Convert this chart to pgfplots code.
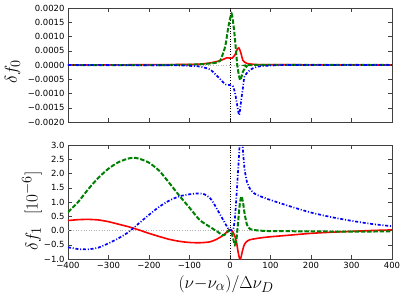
\documentclass[border=0pt]{standalone}
\usepackage{fontspec}
\setmainfont{DejaVu Sans}
\usepackage{pgfplots}
\pgfplotsset{compat=1.18}
\definecolor{mplgreen}{rgb}{0,0.5,0}
\begin{document}
\begin{tikzpicture}
\pgfplotsset{
  myax/.style={
    scale only axis, width=324bp, height=114bp,
    xmin=-400, xmax=400,
    tick align=inside, major tick length=4bp,
    xtick={-400,-300,...,400},
    axis line style={black!75}, tick style={black!75},
    ticklabel style={font=\fontsize{8.5}{10}\selectfont},
    label style={font=\fontsize{19}{21}\selectfont},
    clip=true,
  },
  red line/.style={red, line width=1.6pt},
  green line/.style={mplgreen, line width=2pt, dash pattern=on 4.5pt off 1.8pt},
  blue line/.style={blue, line width=1.7pt, dash pattern=on 3pt off 1.8pt on 1pt off 1.8pt},
}
% bottom
\begin{axis}[myax, at={(0,0)}, anchor=south west,
  ymin=-1, ymax=3, ytick={-1,-0.5,...,3},
  yticklabels={−1.0,−0.5,0.0,0.5,1.0,1.5,2.0,2.5,3.0},
  xticklabels={−400,−300,−200,−100,0,100,200,300,400},
  ylabel={$\delta f_1\ \ [10^{-6}]$},
  ylabel style={at={(axis description cs:-0.111,0.42)}, anchor=center},
  xlabel={$(\nu{-}\nu_\alpha)/\Delta\nu_D$},
  xlabel style={at={(axis description cs:0.488,-0.22)}, anchor=center},
]
\addplot[gray!60, dotted, line width=0.6pt] coordinates {(-400,0) (400,0)};
\addplot[black, dotted, line width=0.6pt] coordinates {(0,-1) (0,3)};
\addplot[red line, smooth, tension=0.4] coordinates {
(-400,0.35) (-375,0.38) (-350,0.39) (-325,0.37) (-300,0.31) (-275,0.22) (-250,0.13)
(-225,0.02) (-200,-0.1) (-175,-0.21) (-150,-0.31) (-125,-0.38) (-100,-0.42) (-75,-0.43)
(-50,-0.4) (-35,-0.32) (-20,-0.2) (-10,-0.08) (-3,0.02) (2,0.03) (7,-0.05) (12,-0.2)
(16,-0.4) (20,-0.75) (24,-1.0) (27,-0.95) (31,-0.7) (36,-0.48) (42,-0.38) (50,-0.32)
(75,-0.26) (100,-0.22) (150,-0.16) (200,-0.1) (250,-0.06) (300,-0.03) (350,0.0) (400,0.02)};
\addplot[green line, smooth, tension=0.4] coordinates {
(-400,0.64) (-375,1.0) (-350,1.45) (-325,1.85) (-300,2.17) (-275,2.4) (-250,2.53)
(-235,2.55) (-220,2.5) (-200,2.38) (-175,2.1) (-150,1.67) (-125,1.22) (-100,0.8)
(-75,0.37) (-50,0.13) (-30,-0.05) (-18,-0.17) (-10,-0.12) (-3,0.0) (3,-0.05) (8,-0.3)
(12,-0.5) (16,-0.3) (20,0.3) (24,0.9) (28,1.2) (32,1.0) (36,0.6) (42,0.2) (50,0.05)
(70,0.0) (100,-0.02) (200,-0.03) (300,-0.04) (400,-0.03)};
\addplot[blue line, smooth, tension=0.4] coordinates {
(-400,-0.59) (-375,-0.65) (-350,-0.66) (-325,-0.6) (-300,-0.45) (-275,-0.27) (-250,-0.05)
(-225,0.25) (-200,0.55) (-175,0.83) (-150,1.05) (-125,1.2) (-100,1.27) (-80,1.3)
(-65,1.28) (-50,1.15) (-40,0.95) (-30,0.7) (-20,0.45) (-10,0.2) (-3,0.03) (3,0.0)
(8,0.05) (12,0.4) (16,1.2) (20,2.1) (23,2.82) (26,3.6) (29,3.5) (32,2.8) (36,2.15)
(42,1.7) (50,1.45) (60,1.3) (75,1.2) (100,1.07) (150,0.84) (200,0.63) (250,0.47)
(300,0.34) (350,0.23) (400,0.15)};
\end{axis}
% top
\begin{axis}[myax, at={(0,137bp)}, anchor=south west,
  ymin=-0.002, ymax=0.002, ytick={-0.002,-0.0015,...,0.002},
  yticklabels={−0.0020,−0.0015,−0.0010,−0.0005,0.0000,0.0005,0.0010,0.0015,0.0020},
  xticklabels={},
  scaled y ticks=false,
  ylabel={$\delta f_0$},
  ylabel style={at={(axis description cs:-0.171,0.44)}, anchor=center},
]
\addplot[gray!60, dotted, line width=0.6pt] coordinates {(-400,0) (400,0)};
\addplot[black, dotted, line width=0.6pt] coordinates {(0,-0.002) (0,0.002)};
\addplot[red line, smooth, tension=0.4] coordinates {
(-400,0) (-200,0.00001) (-100,0.00002) (-74,0.00003) (-50,0.00007) (-25,0.00015)
(-8,0.00025) (0,0.00024) (5,0.00024) (12,0.00035) (18,0.00055) (22,0.0006) (27,0.00042)
(32,0.00016) (41,0.00006) (60,0.00002) (100,0.00001) (400,0)};
\addplot[green line, smooth, tension=0.4] coordinates {
(-400,0) (-150,0) (-100,0.00001) (-60,0.00004) (-40,0.00007) (-25,0.00014)
(-12,0.00064) (-4,0.00134) (4,0.0018) (11,0.0011) (18,0.0) (25,-0.00053) (32,-0.00023)
(41,-0.00005) (60,0) (400,0)};
\addplot[blue line, smooth, tension=0.4] coordinates {
(-400,0) (-150,-0.00001) (-100,-0.00003) (-72,-0.00006) (-47,-0.00018) (-22,-0.00053)
(-11,-0.00068) (7,-0.00074) (14,-0.0011) (20,-0.0016) (23,-0.00175) (28,-0.0012)
(32,-0.0008) (36,-0.0004) (49,-0.00018) (67,-0.00006) (100,-0.00002) (150,0) (400,0)};
\end{axis}
\useasboundingbox (-68bp,-40bp) rectangle (339bp,259bp);
\end{tikzpicture}
\end{document}
